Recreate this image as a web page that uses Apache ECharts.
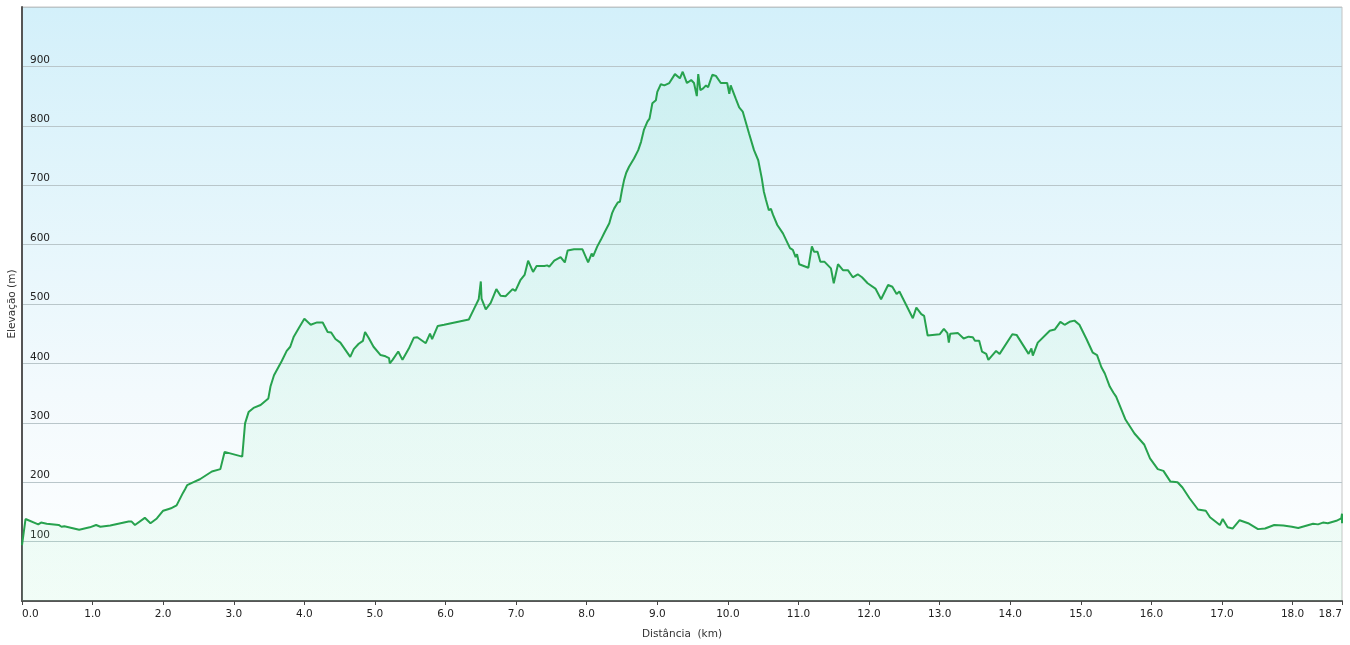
<!DOCTYPE html>
<html>
<head>
<meta charset="utf-8">
<title>Perfil de elevação</title>
<script src="https://cdn.jsdelivr.net/npm/echarts@6/dist/echarts.min.js"></script>
<style>
  html, body { margin: 0; padding: 0; background: #fff; }
  #chart { width: 1350px; height: 645px; }
</style>
</head>
<body>
<div id="chart"></div>
<script>
var distKm = [
  0.00, 0.05, 0.23, 0.27, 0.35, 0.52, 0.56, 0.60, 0.81, 0.96,
  1.05, 1.11, 1.25, 1.51, 1.55, 1.60, 1.74, 1.82, 1.91, 2.00,
  2.08, 2.11, 2.19, 2.28, 2.31, 2.34, 2.43, 2.52, 2.69, 2.81,
  2.87, 3.12, 3.16, 3.21, 3.28, 3.38, 3.49, 3.52, 3.57, 3.68,
  3.75, 3.80, 3.85, 3.92, 4.00, 4.09, 4.18, 4.26, 4.33, 4.38,
  4.44, 4.51, 4.65, 4.70, 4.77, 4.83, 4.86, 4.91, 4.98, 5.08,
  5.15, 5.20, 5.21, 5.25, 5.33, 5.39, 5.48, 5.55, 5.60, 5.72,
  5.78, 5.81, 5.89, 5.98, 6.33, 6.40, 6.47, 6.50, 6.51, 6.57,
  6.64, 6.72, 6.78, 6.85, 6.95, 6.99, 7.06, 7.12, 7.17, 7.24,
  7.29, 7.40, 7.44, 7.47, 7.54, 7.63, 7.69, 7.73, 7.82, 7.94,
  8.02, 8.07, 8.09, 8.15, 8.20, 8.25, 8.32, 8.36, 8.39, 8.41,
  8.44, 8.47, 8.50, 8.53, 8.56, 8.60, 8.67, 8.73, 8.77, 8.81,
  8.86, 8.89, 8.93, 8.98, 9.00, 9.05, 9.10, 9.17, 9.25, 9.32,
  9.36, 9.42, 9.48, 9.52, 9.56, 9.58, 9.61, 9.65, 9.69, 9.72,
  9.78, 9.83, 9.90, 9.99, 10.02, 10.04, 10.11, 10.16, 10.21, 10.30,
  10.37, 10.43, 10.48, 10.51, 10.54, 10.58, 10.61, 10.64, 10.70, 10.78,
  10.88, 10.92, 10.96, 10.98, 11.01, 11.14, 11.19, 11.22, 11.27, 11.31,
  11.37, 11.46, 11.50, 11.56, 11.63, 11.70, 11.77, 11.84, 11.90, 11.98,
  12.09, 12.17, 12.27, 12.33, 12.39, 12.43, 12.62, 12.67, 12.74, 12.78,
  12.83, 13.00, 13.06, 13.11, 13.13, 13.15, 13.26, 13.34, 13.41, 13.47,
  13.50, 13.56, 13.60, 13.66, 13.69, 13.80, 13.85, 14.03, 14.09, 14.26,
  14.30, 14.32, 14.39, 14.56, 14.63, 14.71, 14.77, 14.84, 14.91, 14.98,
  15.08, 15.17, 15.23, 15.29, 15.34, 15.41, 15.46, 15.50, 15.63, 15.76,
  15.90, 15.98, 16.09, 16.17, 16.27, 16.37, 16.44, 16.54, 16.66, 16.77,
  16.83, 16.97, 17.01, 17.08, 17.15, 17.25, 17.37, 17.51, 17.61, 17.74,
  17.87, 17.99, 18.08, 18.29, 18.36, 18.38, 18.43, 18.50, 18.62, 18.69,
  18.70, 18.70
];
var elevM = [
  94, 138, 129, 132, 130, 128, 125, 126, 120, 124,
  128, 125, 127, 134, 134, 128, 140, 131, 139, 152,
  155, 156, 161, 182, 188, 195, 200, 205, 218, 222,
  251, 243, 299, 318, 325, 330, 341, 361, 380, 404,
  421, 428, 445, 459, 475, 465, 469, 469, 453, 452,
  441, 435, 411, 424, 433, 438, 453, 443, 428, 414,
  412, 409, 400, 406, 420, 406, 425, 443, 444, 434,
  450, 441, 463, 465, 474, 491, 508, 538, 509, 491,
  502, 525, 514, 513, 525, 522, 540, 549, 573, 554,
  564, 564, 565, 563, 573, 579, 570, 590, 592, 592,
  570, 585, 580, 597, 608, 620, 636, 653, 661, 659,
  671, 672, 692, 709, 721, 731, 745, 759, 773, 793,
  807, 812, 838, 843, 857, 870, 868, 872, 887, 880,
  891, 872, 877, 872, 850, 887, 860, 863, 868, 865,
  886, 884, 872, 872, 854, 868, 846, 831, 824, 787,
  759, 742, 712, 689, 675, 658, 660, 650, 633, 619,
  594, 591, 579, 584, 567, 561, 597, 588, 588, 571,
  571, 560, 535, 567, 557, 557, 545, 550, 545, 535,
  526, 508, 532, 529, 517, 521, 476, 494, 483, 480,
  447, 449, 458, 451, 435, 450, 451, 442, 445, 444,
  438, 438, 420, 416, 406, 421, 416, 449, 448, 416,
  425, 413, 435, 455, 457, 470, 465, 470, 472, 465,
  441, 418, 414, 394, 383, 361, 351, 344, 306, 282,
  263, 240, 222, 219, 201, 200, 191, 173, 154, 152,
  141, 128, 138, 124, 122, 136, 131, 121, 122, 128,
  127, 125, 123, 130, 129, 127, 132, 131, 135, 139,
  147, 131
];

var xMax = 18.7;
var yTicks = [100, 200, 300, 400, 500, 600, 700, 800, 900];

var profile = distKm.map(function (d, i) { return [d, elevM[i]]; });

var myChart = echarts.init(document.getElementById('chart'));
myChart.setOption({
  animation: false,
  textStyle: { fontFamily: 'DejaVu Sans', color: '#222' },
  grid: {
    left: 22, right: 8, top: 7, bottom: 44,
    containLabel: false,
    outerBoundsMode: 'none',
    show: true,
    borderColor: '#c4c4c4',
    borderWidth: 1,
    backgroundColor: new echarts.graphic.LinearGradient(0, 0, 0, 1, [
      { offset: 0, color: '#d3f0fa' },
      { offset: 0.65, color: '#f3fafd' },
      { offset: 1, color: '#ffffff' }
    ])
  },
  xAxis: {
    type: 'value',
    min: 0,
    max: xMax,
    interval: 1,
    name: 'Distância  (km)',
    nameLocation: 'middle',
    nameGap: 28,
    nameTextStyle: { fontSize: 10.5, color: '#333' },
    axisLine: { lineStyle: { color: '#555', width: 2 } },
    axisTick: { length: 4, lineStyle: { color: '#444' } },
    axisLabel: {
      fontSize: 10.5,
      color: '#222',
      margin: 8,
      alignMinLabel: 'left',
      alignMaxLabel: 'right',
      formatter: function (v) { return v.toFixed(1); }
    },
    splitLine: { show: false }
  },
  yAxis: {
    type: 'value',
    min: 0,
    max: 1000,
    interval: 100,
    name: 'Elevação (m)',
    nameLocation: 'middle',
    nameRotate: 90,
    nameGap: 4,
    nameMoveOverlap: false,
    nameTextStyle: { fontSize: 10.5, color: '#333' },
    axisLine: { show: true, lineStyle: { color: '#555', width: 2 } },
    axisTick: { show: false },
    axisLabel: {
      inside: true,
      fontSize: 10.5,
      color: '#222',
      margin: 8,
      verticalAlign: 'bottom',
      padding: [0, 0, 1, 0],
      formatter: function (v) { return yTicks.indexOf(v) >= 0 ? String(v) : ''; }
    },
    splitLine: { lineStyle: { color: '#b9c6ca', width: 1 } }
  },
  series: [
    {
      name: 'Elevação',
      type: 'line',
      data: profile,
      symbol: 'none',
      lineStyle: { color: '#27a24e', width: 2 },
      areaStyle: {
        origin: 'start',
        color: new echarts.graphic.LinearGradient(0, 0, 0, 1, [
          { offset: 0, color: 'rgba(110,225,170,0.16)' },
          { offset: 1, color: 'rgba(140,238,185,0.17)' }
        ])
      }
    }
  ]
});
</script>
</body>
</html>
